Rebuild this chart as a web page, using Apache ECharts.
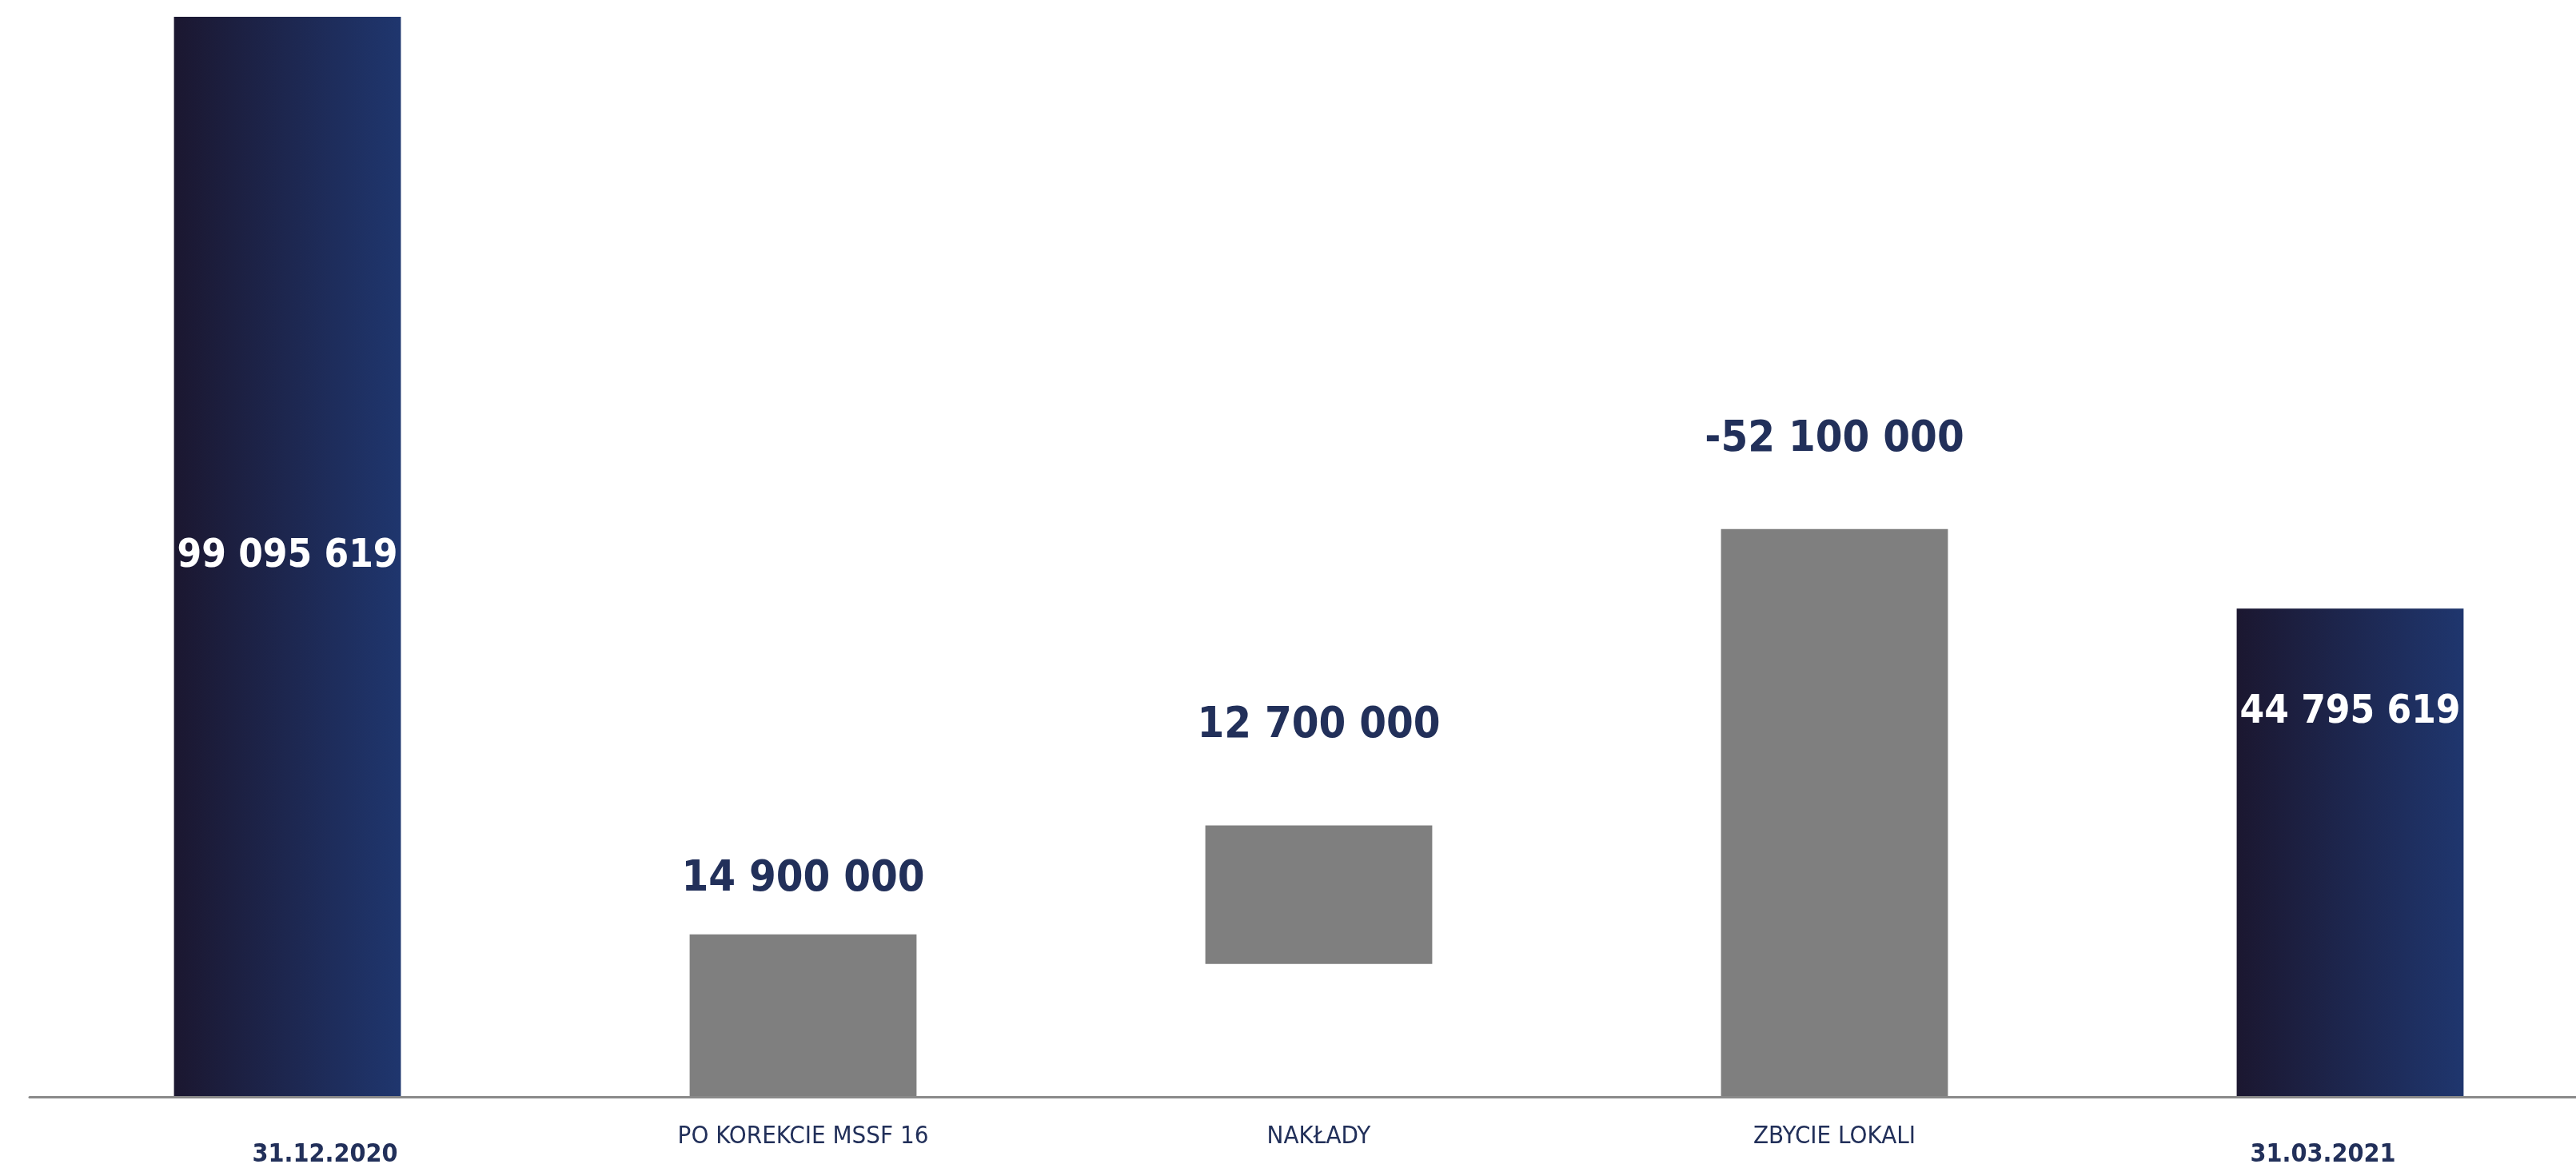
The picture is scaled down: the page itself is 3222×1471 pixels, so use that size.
<!DOCTYPE html>
<html lang="pl">
<head>
<meta charset="utf-8">
<title>Wartość nieruchomości</title>
<script src="https://cdn.jsdelivr.net/npm/echarts@6/dist/echarts.min.js"></script>
<style>
  html, body { margin: 0; padding: 0; background: #ffffff; }
  #chart { width: 3222px; height: 1471px; }
</style>
</head>
<body>
<div id="chart"></div>
<script>
// Bridge of the value between two reporting dates
const categories = ['31.12.2020', 'PO KOREKCIE MSSF 16', 'NAKŁADY', 'ZBYCIE LOKALI', '31.03.2021'];
const amounts = [99095619, 14900000, 12700000, -52100000, 44795619];
// level at which each floating bar starts
const starts = [0, 0, 12200000, 0, 0];
const isTotal = [true, false, false, false, true];

const FONT = "'Liberation Sans Narrow', 'DejaVu Sans Condensed', 'Roboto', sans-serif";
const NAVY = '#22305a';
// gap between a change bar and its value label, in pixels
const LABEL_GAP = [0, 42, 98, 85, 0];

function formatAmount(v) {
  const s = String(Math.abs(v)).replace(/\B(?=(\d{3})+(?!\d))/g, ' ');
  return (v < 0 ? '-' : '') + s;
}

const totalFill = new echarts.graphic.LinearGradient(0, 0, 1, 0, [
  { offset: 0, color: '#1b1730' },
  { offset: 1, color: '#1f366e' }
]);

const heights = amounts.map(Math.abs);
const tops = heights.map((h, i) => h + starts[i]);

const barData = heights.map((h, i) => {
  const total = isTotal[i];
  const label = total
    ? {
        show: true,
        position: i === 0 ? 'inside' : 'insideTop',
        distance: 105,
        color: '#ffffff',
        fontFamily: FONT,
        fontWeight: 'bold',
        fontSize: 49
      }
    : {
        show: true,
        position: 'top',
        distance: LABEL_GAP[i],
        color: NAVY,
        fontFamily: FONT,
        fontWeight: 'bold',
        fontSize: 54
      };
  return {
    value: h,
    itemStyle: { color: total ? totalFill : '#7f7f7f' },
    label: Object.assign(label, {
      overflow: 'none',
      formatter: () => formatAmount(amounts[i])
    })
  };
});

const chart = echarts.init(document.getElementById('chart'), null, { renderer: 'canvas' });

chart.setOption({
  backgroundColor: '#ffffff',
  animation: false,
  grid: { left: 37, right: -40, top: 21, bottom: 99, outerBoundsMode: 'none' },
  xAxis: {
    type: 'category',
    data: categories,
    z: 5,
    axisLine: { lineStyle: { color: '#8a8a8a', width: 3 } },
    axisTick: { show: false },
    axisLabel: {
      interval: 0,
      margin: 34,
      formatter: (v, i) => {
        if (i === 0) return '{d1|' + v + '}';
        if (i === categories.length - 1) return '{d2|' + v + '}';
        return '{c|' + v + '}';
      },
      rich: {
        c: { fontFamily: FONT, fontSize: 31, color: NAVY },
        d1: { fontFamily: FONT, fontSize: 32, fontWeight: 'bold', color: NAVY, padding: [23, 0, 0, 94] },
        d2: { fontFamily: FONT, fontSize: 32, fontWeight: 'bold', color: NAVY, padding: [23, 68, 0, 0] }
      }
    }
  },
  yAxis: {
    type: 'value',
    min: 0,
    max: Math.max.apply(null, tops),
    show: false,
    splitLine: { show: false }
  },
  series: [
    {
      name: 'start',
      type: 'bar',
      stack: 'bridge',
      silent: true,
      barWidth: '44%',
      itemStyle: { color: 'transparent' },
      data: starts
    },
    {
      name: 'amount',
      type: 'bar',
      stack: 'bridge',
      barWidth: '44%',
      data: barData
    }
  ]
});
</script>
</body>
</html>
